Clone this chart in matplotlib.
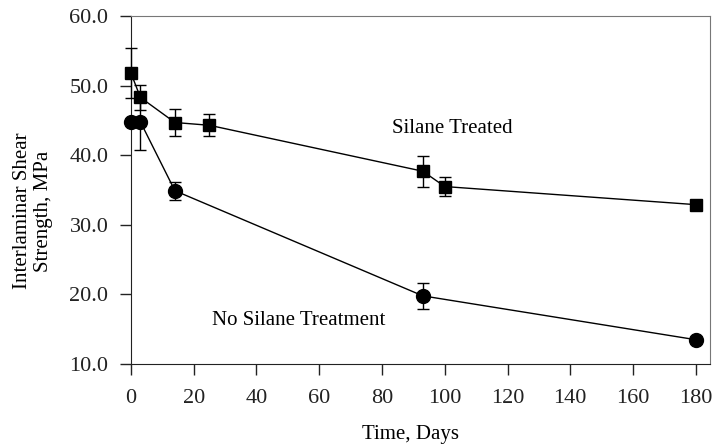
import matplotlib
matplotlib.use("Agg")
import matplotlib.pyplot as plt

plt.rcParams["font.family"] = ["Liberation Serif", "DejaVu Serif"]

# Interlaminar shear strength over immersion time
days_treated = [0, 3, 14, 25, 93, 100, 180]
ilss_treated = [51.8, 48.3, 44.7, 44.3, 37.7, 35.5, 32.9]
err_treated = [3.6, 1.8, 2.0, 1.6, 2.2, 1.4, 0.0]

days_untreated = [0, 3, 14, 93, 180]
ilss_untreated = [44.8, 44.8, 34.9, 19.8, 13.5]
err_untreated = [0.0, 4.1, 1.3, 1.9, 0.0]

x_ticks = [0, 20, 40, 60, 80, 100, 120, 140, 160, 180]
y_ticks = [10, 20, 30, 40, 50, 60]

fig = plt.figure(figsize=(7.13, 4.44), dpi=100)
ax = fig.add_axes([0.1837, 0.180, 0.8120, 0.784])

common = dict(color="black", ecolor="black", lw=1.0, elinewidth=1.0,
              capsize=4.5, capthick=1.0, clip_on=False, zorder=3)
ax.errorbar(days_treated, ilss_treated, yerr=err_treated, marker="s",
            ms=9, **common)
ax.errorbar(days_untreated, ilss_untreated, yerr=err_untreated, marker="o",
            ms=10, **common)

ax.text(102.4, 43.9, "Silane Treated", fontsize=15, ha="center", va="center")
ax.text(53.5, 16.2, "No Silane Treatment", fontsize=15, ha="center",
        va="center")

ax.set_xlim(0, 184.5)
ax.set_ylim(10, 60)
ax.set_xticks(x_ticks)
ax.set_yticks(y_ticks)
ax.set_yticklabels([f"{v:.1f}" for v in y_ticks])
ax.tick_params(direction="out", length=8.2, width=1.0, labelsize=16,
               colors="#222222", pad=8)
ax.tick_params(axis="x", pad=10)
for side in ("left", "bottom"):
    ax.spines[side].set_color("#222222")
for side in ("top", "right"):
    ax.spines[side].set_color("#777777")

ax.set_xlabel("Time, Days", fontsize=15)
ax.xaxis.set_label_coords(0.483, -0.175)
ax.set_ylabel("Interlaminar Shear\nStrength, MPa", fontsize=15)
ax.yaxis.set_label_coords(-0.134, 0.44)

fig.savefig("out.png", dpi=100)
